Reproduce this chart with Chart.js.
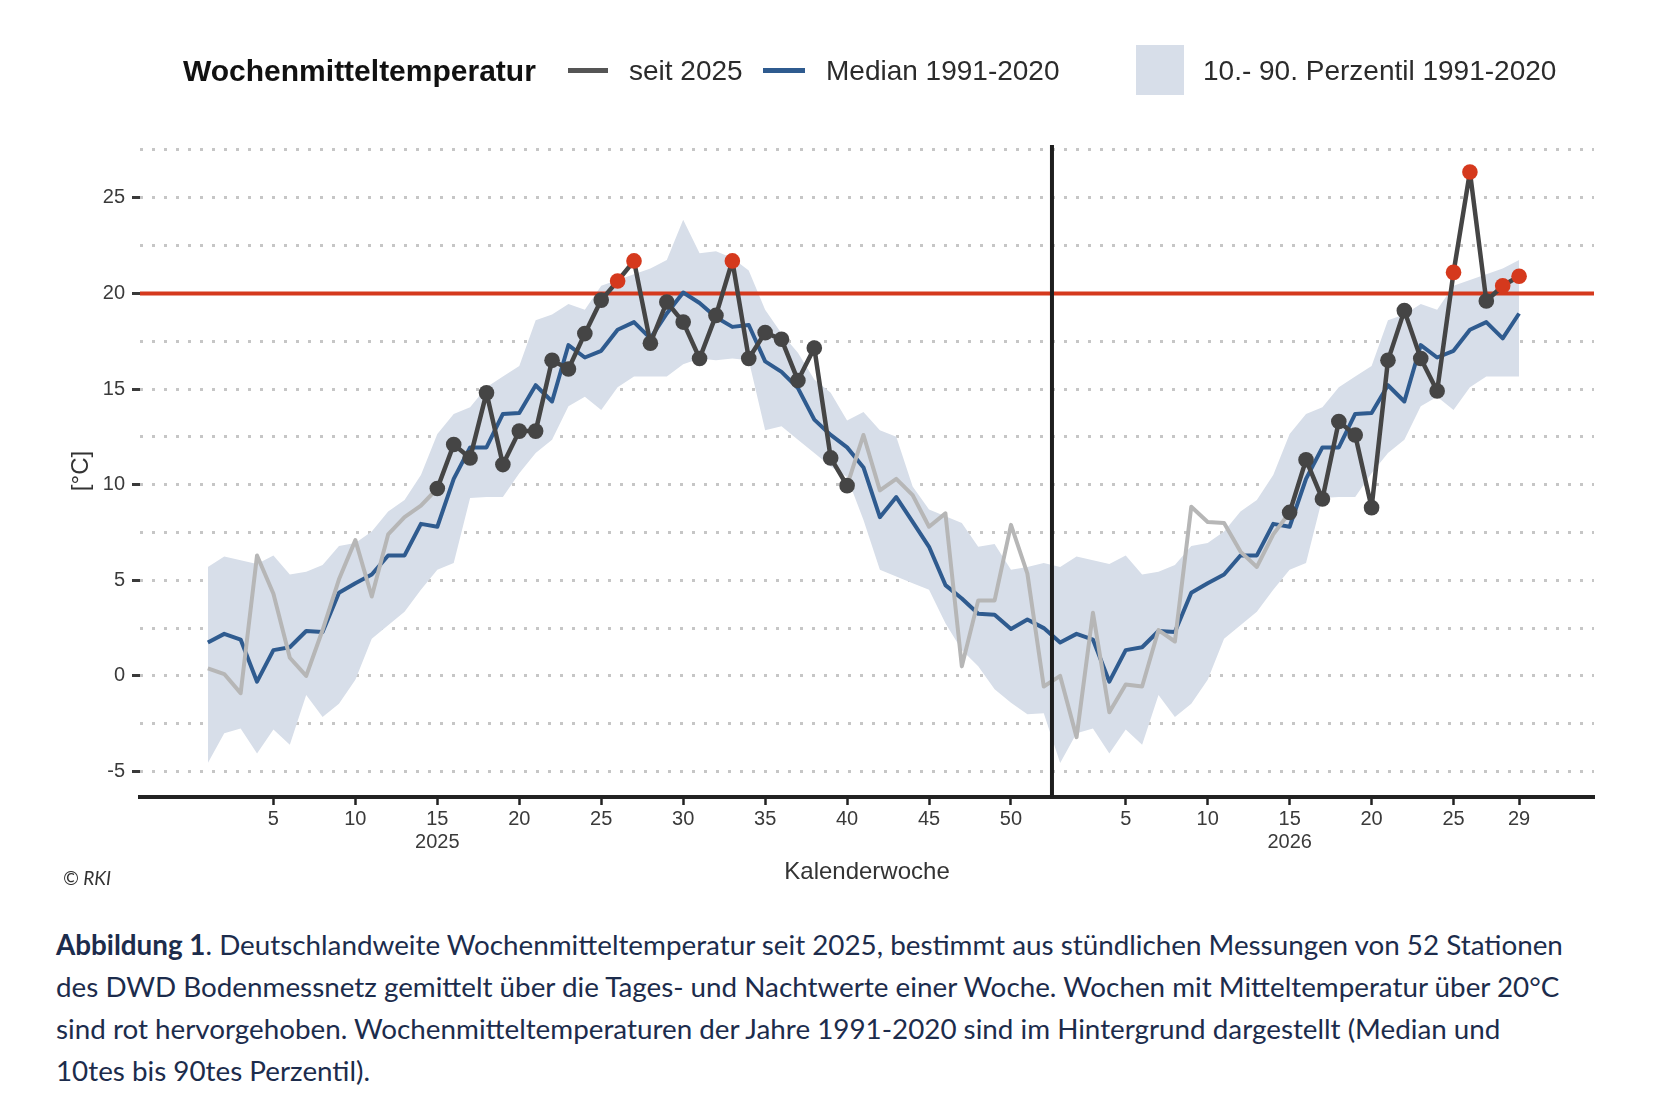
<!DOCTYPE html>
<html>
<head>
<meta charset="utf-8">
<script src="https://cdn.jsdelivr.net/npm/chart.js@4.4.1/dist/chart.umd.min.js"></script>
<style>
html,body{margin:0;padding:0;background:#fff;overflow:hidden;width:1654px;height:1106px;}
#wrap{position:relative;width:1654px;height:1106px;}
#c{position:absolute;left:0;top:0;}
.lg{position:absolute;font-family:"Liberation Sans",Arial,sans-serif;white-space:nowrap;line-height:1;color:#2b2b2b;}
.sw{position:absolute;}
#rki{position:absolute;left:63px;top:866px;font-family:Lato,sans-serif;font-style:italic;font-size:19px;line-height:24px;color:#333;}
#cap{position:absolute;left:56px;top:924px;font-family:Lato,sans-serif;font-size:27.8px;line-height:42px;color:#1c2c4c;white-space:nowrap;}
</style>
</head>
<body>
<div id="wrap">
<canvas id="c" width="1654" height="900"></canvas>
<div class="lg" style="left:183px;top:56px;font-size:30px;font-weight:bold;color:#111;">Wochenmitteltemperatur</div>
<div class="sw" style="left:568px;top:68px;width:40px;height:5px;background:#555;"></div>
<div class="lg" style="left:629px;top:57px;font-size:28px;">seit 2025</div>
<div class="sw" style="left:763px;top:68px;width:42px;height:5px;background:#2f5b8f;"></div>
<div class="lg" style="left:826px;top:57px;font-size:28px;">Median 1991-2020</div>
<div class="sw" style="left:1136px;top:45px;width:48px;height:50px;background:#d7dee9;"></div>
<div class="lg" style="left:1203px;top:57px;font-size:28px;">10.- 90. Perzentil 1991-2020</div>
<div id="rki">© RKI</div>
<div id="cap"><b>Abbildung 1</b>. Deutschlandweite Wochenmitteltemperatur seit 2025, bestimmt aus stündlichen Messungen von 52 Stationen<br>des DWD Bodenmessnetz gemittelt über die Tages- und Nachtwerte einer Woche. Wochen mit Mitteltemperatur über 20°C<br>sind rot hervorgehoben. Wochenmitteltemperaturen der Jahre 1991-2020 sind im Hintergrund dargestellt (Median und<br>10tes bis 90tes Perzentil).</div>
</div>
<script>
// ---------- data ----------
const weeks2025 = [1,2,3,4,5,6,7,8,9,10,11,12,13,14,15,16,17,18,19,20,21,22,23,24,25,26,27,28,29,30,31,32,33,34,35,36,37,38,39,40,41,42,43,44,45,46,47,48,49,50,51,52];
const weeks2026 = [1,2,3,4,5,6,7,8,9,10,11,12,13,14,15,16,17,18,19,20,21,22,23,24,25,26,27,28,29];

const temp2025 = [0.4,0.1,-0.9,6.3,4.3,0.95,0.0,2.4,5.05,7.1,4.15,7.4,8.3,8.9,9.8,12.1,11.4,14.8,11.05,12.8,12.8,16.5,16.05,17.9,19.65,20.65,21.7,17.4,19.55,18.5,16.6,18.85,21.7,16.6,17.95,17.6,15.45,17.15,11.4,9.95,12.6,9.7,10.3,9.45,7.8,8.5,0.5,3.95,3.95,7.9,5.35,-0.55];
const temp2026 = [0.0,-3.2,3.3,-1.9,-0.45,-0.55,2.4,1.8,8.85,8.05,8.0,6.5,5.7,7.4,8.55,11.3,9.25,13.3,12.6,8.8,16.5,19.1,16.6,14.9,21.1,26.35,19.6,20.4,20.9];

const median1991_2020 = [1.75,2.2,1.9,-0.3,1.35,1.5,2.35,2.3,4.35,4.85,5.3,6.3,6.3,7.95,7.8,10.3,11.95,11.95,13.7,13.75,15.2,14.35,17.3,16.65,17.0,18.1,18.5,17.65,18.95,20.05,19.5,18.75,18.25,18.35,16.45,15.9,15.05,13.4,12.6,11.95,10.9,8.3,9.35,8.05,6.75,4.75,4.05,3.25,3.2,2.45,2.95,2.5];
const p90_1991_2020 = [5.7,6.25,6.05,5.85,6.3,5.3,5.45,5.8,6.8,6.95,7.55,8.6,9.2,10.5,12.65,13.7,14.05,15.1,15.65,16.2,18.6,18.9,19.45,19.15,20.4,20.7,21.0,21.3,21.75,23.85,22.1,22.2,21.85,21.2,19.15,17.9,16.9,15.5,14.8,13.35,13.8,12.85,12.5,9.9,8.7,8.35,8.0,6.75,6.9,5.55,5.7,5.9];
const p10_1991_2020 = [-4.55,-3.0,-2.75,-4.05,-2.8,-3.6,-1.0,-2.15,-1.45,-0.2,1.95,2.65,3.35,4.5,5.55,5.9,9.3,9.35,9.35,10.6,11.65,12.35,14.1,14.6,13.9,15.1,15.65,15.65,15.65,16.3,16.6,16.5,16.6,16.5,12.85,13.05,12.35,11.65,10.95,10.4,8.15,5.55,5.2,4.85,4.5,2.75,1.35,0.5,-0.7,-1.4,-2.0,-1.95];

const xTickWeeks2025 = [5,10,15,20,25,30,35,40,45,50];
const xTickWeeks2026 = [5,10,15,20,25,29];
const yearLabels = ['2025','2026'];
const yearLabelWeek = 15;
const yTickLabels = [-5,0,5,10,15,20,25];
const heatThreshold = 20;
const seasonStartWeek = 15;
const seasonEndWeek = 40;

// ---------- styles ----------
const RED = '#d5391d', DARK = '#454545', LIGHT = '#b6b6b6', BLUE = '#2f5b8f', BAND = '#d7dee9';
const FONT = 'Liberation Sans';

// ---------- build ----------
const pts = [];
weeks2025.forEach((w, k) => pts.push({x: pts.length, year: 0, week: w, t: temp2025[k]}));
weeks2026.forEach((w, k) => pts.push({x: pts.length, year: 1, week: w, t: temp2026[k]}));
const inSeason = p => p.week >= seasonStartWeek && p.week <= seasonEndWeek;
const clim = arr => pts.map(p => ({x: p.x, y: arr[p.week - 1]}));
const darkData = pts.map(p => ({x: p.x, y: inSeason(p) ? p.t : null}));
const lightData = pts.map(p => ({x: p.x, y: (!inSeason(p) || p.week === seasonStartWeek || p.week === seasonEndWeek) ? p.t : null}));
const posOf = (year, week) => pts.find(p => p.year === year && p.week === week).x;
const tickMap = new Map();
xTickWeeks2025.forEach(w => tickMap.set(posOf(0, w), w === yearLabelWeek ? [String(w), yearLabels[0]] : String(w)));
xTickWeeks2026.forEach(w => tickMap.set(posOf(1, w), w === yearLabelWeek ? [String(w), yearLabels[1]] : String(w)));
const yearDivider = (posOf(0, weeks2025[weeks2025.length - 1]) + posOf(1, weeks2026[0])) / 2;

const guideLines = {
  id: 'guideLines',
  afterDatasetDraw(chart, args) {
    if (args.index !== 3) return;
    const {ctx, chartArea: a, scales: {y}} = chart;
    const py = y.getPixelForValue(heatThreshold);
    ctx.save();
    ctx.strokeStyle = RED; ctx.lineWidth = 4;
    ctx.beginPath(); ctx.moveTo(a.left, py); ctx.lineTo(a.right, py); ctx.stroke();
    ctx.restore();
  },
  afterDatasetsDraw(chart) {
    const {ctx, chartArea: a, scales: {x}} = chart;
    const px = x.getPixelForValue(yearDivider);
    ctx.save();
    ctx.strokeStyle = '#1e1e1e'; ctx.lineWidth = 4;
    ctx.beginPath(); ctx.moveTo(px, a.top); ctx.lineTo(px, a.bottom); ctx.stroke();
    ctx.restore();
  }
};

Chart.defaults.font.family = FONT;
new Chart(document.getElementById('c'), {
  type: 'line',
  data: {
    datasets: [
      {label: 'seit 2025', data: darkData, borderColor: DARK, borderWidth: 4.5, tension: 0,
       borderJoinStyle: 'round', borderCapStyle: 'round', spanGaps: false,
       pointRadius: 7.8, pointBorderWidth: 0,
       pointBackgroundColor: c => (c.parsed && c.parsed.y > heatThreshold) ? RED : DARK},
      {label: 'seit 2025 (außerhalb)', data: lightData, borderColor: LIGHT, borderWidth: 4, tension: 0,
       borderJoinStyle: 'round', spanGaps: false, pointRadius: 0},
      {label: 'Median 1991-2020', data: clim(median1991_2020), borderColor: BLUE, borderWidth: 4, tension: 0,
       borderJoinStyle: 'round', pointRadius: 0},
      {label: '90. Perzentil', data: clim(p90_1991_2020), borderColor: 'rgba(0,0,0,0)', borderWidth: 0,
       pointRadius: 0, fill: '+1', backgroundColor: BAND, tension: 0},
      {label: '10. Perzentil', data: clim(p10_1991_2020), borderColor: 'rgba(0,0,0,0)', borderWidth: 0,
       pointRadius: 0, fill: false, tension: 0}
    ]
  },
  options: {
    responsive: false,
    animation: false,
    events: [],
    layout: {padding: {top: 145, right: 60, bottom: 13.6, left: 0}},
    plugins: {legend: {display: false}, tooltip: {enabled: false}},
    scales: {
      x: {
        type: 'linear', min: -4.14, max: 84.57,
        afterBuildTicks(s) { s.ticks = [...tickMap.keys()].map(v => ({value: v})); },
        afterFit(s) { s.height = 89.4; },
        ticks: {autoSkip: false, maxRotation: 0, minRotation: 0, padding: 2.5, color: '#3a3a3a',
                font: {size: 20, lineHeight: 1.15}, callback: v => tickMap.has(v) ? tickMap.get(v) : ''},
        grid: {drawOnChartArea: false, drawTicks: true, tickLength: 8, tickWidth: 2.5, tickColor: '#222', color: '#222'},
        border: {display: true, color: '#222', width: 4},
        title: {display: true, text: 'Kalenderwoche', color: '#333', font: {size: 24}, padding: {top: 0, bottom: 0}}
      },
      y: {
        type: 'linear', min: -6.33, max: 27.76,
        afterFit(s) { s.width = 140; },
        ticks: {stepSize: 2.5, includeBounds: false, autoSkip: false, padding: 7, color: '#3a3a3a',
                font: {size: 20}, callback: v => yTickLabels.includes(v) ? String(v) : ''},
        grid: {color: '#c6c6c6', lineWidth: 3, drawTicks: true, tickLength: 8, tickWidth: 3, tickBorderDash: [],
               tickColor: c => yTickLabels.includes(c.tick.value) ? '#3a3a3a' : 'rgba(0,0,0,0)'},
        border: {display: false, dash: [3, 9]},
        title: {display: true, text: '[°C]', color: '#333', font: {size: 24}, padding: {top: 67, bottom: 0}}
      }
    }
  },
  plugins: [guideLines]
});
</script>
</body>
</html>
